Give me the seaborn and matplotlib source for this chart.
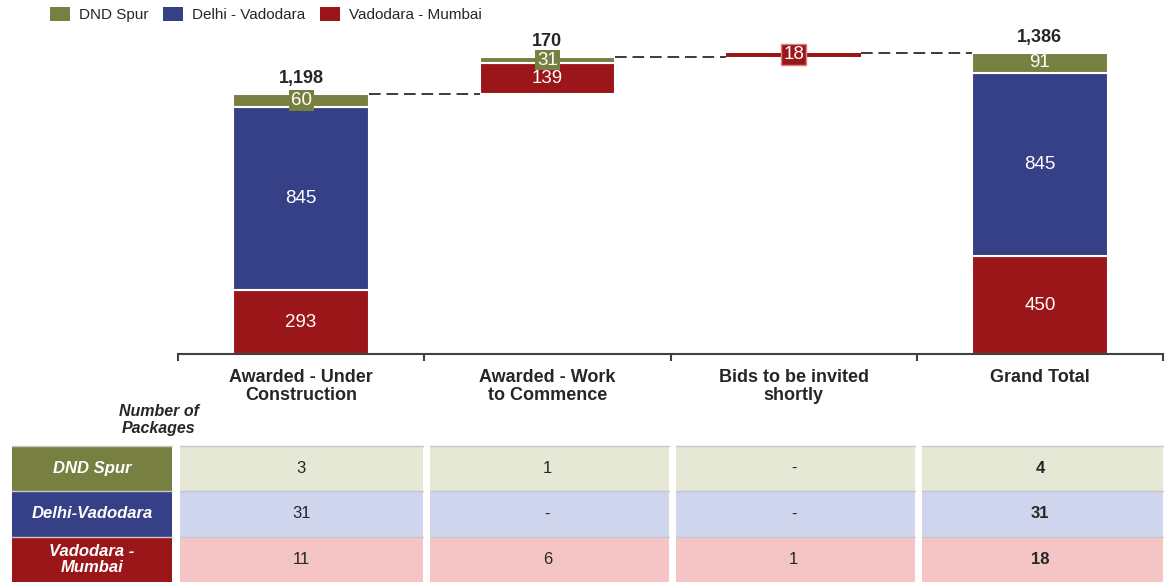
import numpy as np
import matplotlib
matplotlib.use("Agg")
import matplotlib.pyplot as plt
from matplotlib.patches import Rectangle, Patch
import seaborn as sns

# ----------------------------------
# Data
# ----------------------------------
categories = ["Awarded - Under\nConstruction", "Awarded - Work\nto Commence",
              "Bids to be invited\nshortly", "Grand Total"]
vadodara_mumbai = [293, 139, 18, 450]
delhi_vadodara = [845, 0, 0, 845]
dnd_spur = [60, 31, 0, 91]
is_total = [False, False, False, True]
show_total = [True, True, False, True]

legend_labels = ["DND Spur", "Delhi - Vadodara", "Vadodara - Mumbai"]

table_rows = ["DND Spur", "Delhi-Vadodara", "Vadodara -\nMumbai"]
packages_dnd = ["3", "1", "-", "4"]
packages_delhi = ["31", "-", "-", "31"]
packages_vm = ["11", "6", "1", "18"]

# ----------------------------------
# Style
# ----------------------------------
OLIVE = "#788041"
NAVY = "#364087"
RED = "#9B1619"
LIGHT = {"olive": "#E4E8D5", "navy": "#D0D5EE", "red": "#F5C5C5"}
TXT = "#262626"

sns.set_theme(style="white")
plt.rcParams["font.family"] = ["Liberation Sans", "DejaVu Sans"]

fig = plt.figure(figsize=(11.67, 5.82), dpi=100)
W, H = 1167, 582
ax = fig.add_axes([178 / W, 1 - 354 / H, 985 / W, 326 / H])

BAR_W = 0.55

# ----------------------------------
# Waterfall bases
# ----------------------------------
step = np.array(vadodara_mumbai) + np.array(delhi_vadodara) + np.array(dnd_spur)
base = np.zeros(len(categories))
running = 0
for i in range(len(categories)):
    if is_total[i]:
        base[i] = 0
    else:
        base[i] = running
        running += step[i]

# ----------------------------------
# Stacked bars (bottom first)
# ----------------------------------
stack = [(vadodara_mumbai, RED), (delhi_vadodara, NAVY), (dnd_spur, OLIVE)]
bottom = base.copy()
for vals, col in stack:
    vals = np.array(vals, dtype=float)
    lws = [0 if v < 20 else 1.5 for v in vals]
    sns.barplot(x=categories, y=vals, order=categories, color=col, saturation=1,
                width=BAR_W, errorbar=None, bottom=bottom, edgecolor="white",
                linewidth=lws, ax=ax)
    for i, v in enumerate(vals):
        if v <= 0:
            continue
        yc = bottom[i] + v / 2
        box = None
        if v < 80:
            if col == RED:
                box = dict(boxstyle="square,pad=0.12", fc=RED, ec="#E08080", lw=1)
            else:
                box = dict(boxstyle="square,pad=0.1", fc=col, ec="none")
        ax.text(i, yc, f"{int(v):,}", ha="center", va="center", color="white",
                fontsize=13.5, bbox=box, zorder=5)
    bottom = bottom + vals

# totals above bars
for i in range(len(categories)):
    if show_total[i]:
        ax.annotate(f"{int(step[i]):,}", (i, base[i] + step[i]), xytext=(0, 5),
                    textcoords="offset points", ha="center", va="bottom",
                    fontsize=13, fontweight="bold", color=TXT)

# connectors
for i in range(len(categories) - 1):
    level = base[i] + step[i]
    ax.plot([i + BAR_W / 2, i + 1 - BAR_W / 2], [level, level], color="#1a1a1a",
            lw=1.2, dashes=(7, 3.5), zorder=1)

# ----------------------------------
# Axes formatting
# ----------------------------------
ax.set_xlim(-0.5, len(categories) - 0.5)
ax.set_ylim(0, 1500)
ax.set_yticks([])
ax.set_ylabel("")
ax.set_xlabel("")
for s in ["top", "right", "left"]:
    ax.spines[s].set_visible(False)
ax.spines["bottom"].set_color("#404040")
ax.spines["bottom"].set_linewidth(1.5)
ax.set_xticks(range(len(categories)))
ax.set_xticklabels(categories, fontsize=13, fontweight="bold", color=TXT,
                   linespacing=1.05)
ax.set_xticks(np.arange(-0.5, len(categories)), minor=True)
ax.tick_params(axis="x", which="major", length=0, pad=11)
ax.tick_params(axis="x", which="minor", length=5, width=1.5, color="#404040",
               direction="out", bottom=True)

# legend
handles = [Patch(fc=c, ec="none") for c in [OLIVE, NAVY, RED]]
fig.legend(handles, legend_labels, loc="upper left", bbox_to_anchor=(0.031, 1.012),
           ncol=3, frameon=False, fontsize=11, handlelength=1.3, handleheight=1.1,
           columnspacing=0.95, handletextpad=0.6, labelcolor=TXT)

# ----------------------------------
# Package table
# ----------------------------------
tab = fig.add_axes([178 / W, 0, 985 / W, 136 / H])
tab.set_xlim(-0.5, len(categories) - 0.5)
tab.set_ylim(3, 0)
tab.axis("off")

label_left, label_right = -1.174, -0.524
gap = 0.022
row_style = [(OLIVE, LIGHT["olive"], packages_dnd),
             (NAVY, LIGHT["navy"], packages_delhi),
             (RED, LIGHT["red"], packages_vm)]
for r, (dark, light, vals) in enumerate(row_style):
    tab.add_patch(Rectangle((label_left, r), label_right - label_left, 1, fc=dark,
                            ec="none", clip_on=False))
    tab.plot([label_left, label_right], [r, r], color="#C8C8C8", lw=1, clip_on=False)
    tab.text((label_left + label_right) / 2, r + 0.5, table_rows[r], ha="center",
             va="center", color="white", fontsize=12, fontweight="bold",
             fontstyle="italic", linespacing=1.1, clip_on=False)
    for c, v in enumerate(vals):
        left = c - 0.5 + (0.008 if c == 0 else gap)
        right = c + 0.5 - (0.0 if c == len(vals) - 1 else 0.006)
        tab.add_patch(Rectangle((left, r), right - left, 1, fc=light, ec="none",
                                clip_on=False))
        tab.plot([left, right], [r, r], color="#C8C8C8", lw=1, clip_on=False)
        tab.text(c, r + 0.5, v, ha="center", va="center", color=TXT, fontsize=12,
                 fontweight="bold" if c == len(vals) - 1 else "normal")

fig.text(159 / W, 1 - 420 / H, "Number of\nPackages", ha="center", va="center",
         fontsize=11.5, fontweight="bold", fontstyle="italic", color=TXT,
         linespacing=1.15)

fig.savefig("out.png", dpi=100)
